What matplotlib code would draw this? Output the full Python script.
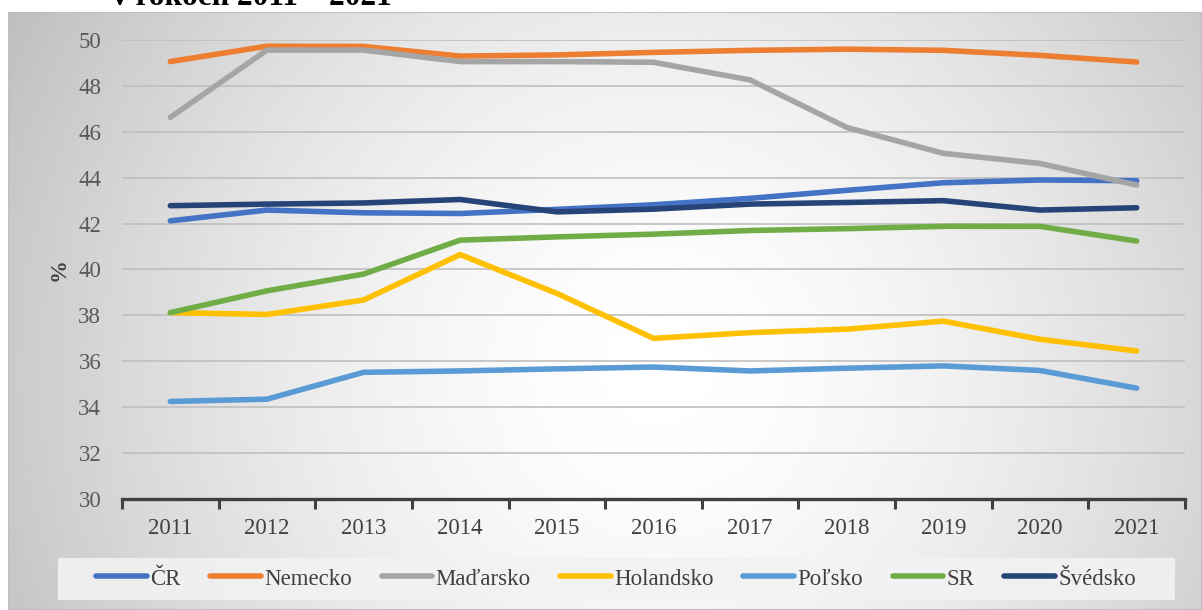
import numpy as np
import matplotlib
matplotlib.use("Agg")
import matplotlib.pyplot as plt

plt.rcParams['font.family'] = ['Liberation Serif', 'DejaVu Serif']

# roky a hodnoty (%)
roky = ['2011', '2012', '2013', '2014', '2015', '2016', '2017', '2018', '2019', '2020', '2021']
cr = [42.12, 42.59, 42.47, 42.44, 42.62, 42.82, 43.10, 43.45, 43.78, 43.90, 43.87]
nemecko = [49.06, 49.73, 49.72, 49.30, 49.35, 49.46, 49.55, 49.60, 49.55, 49.33, 49.04]
madarsko = [46.63, 49.56, 49.56, 49.06, 49.06, 49.03, 48.26, 46.19, 45.06, 44.62, 43.68]
holandsko = [38.12, 38.04, 38.67, 40.65, 38.96, 37.00, 37.25, 37.40, 37.75, 36.96, 36.45]
polsko = [34.25, 34.35, 35.52, 35.58, 35.67, 35.75, 35.58, 35.70, 35.80, 35.60, 34.83]
sr = [38.12, 39.07, 39.80, 41.28, 41.42, 41.54, 41.70, 41.78, 41.88, 41.88, 41.24]
svedsko = [42.78, 42.85, 42.90, 43.05, 42.51, 42.63, 42.85, 42.92, 43.00, 42.59, 42.69]
ytick_hodnoty = [30, 32, 34, 36, 38, 40, 42, 44, 46, 48, 50]

nazvy = ['ČR', 'Nemecko', 'Maďarsko', 'Holandsko', 'Poľsko', 'SR', 'Švédsko']
farby = ['#4472C4', '#ED7D31', '#A5A5A5', '#FFC000', '#5B9BD5', '#70AD47', '#264478']
serie = [cr, nemecko, madarsko, holandsko, polsko, sr, svedsko]

fig = plt.figure(figsize=(12.02, 6.10), dpi=100)
fig.patch.set_facecolor('white')

# pozadie grafu - radialny prechod
bg = fig.add_axes([8 / 1202, 0, 1 - 8 / 1202, 1 - 12 / 610])
gx, gy = np.meshgrid(np.linspace(0, 1194, 400), np.linspace(0, 598, 200))
d = np.sqrt(((gx - 650) / 640) ** 2 + ((gy - 360) / 640) ** 2)
shade = 1 - 0.2 * np.clip(d, 0, 1.2) ** 1.6
bg.imshow(shade, cmap='gray', vmin=0, vmax=1, aspect='auto', extent=[0, 1, 0, 1])
bg.set_axis_off()
bg.add_patch(plt.Rectangle((0, 0), 1, 1, transform=bg.transAxes, fill=False,
                           edgecolor='#bfbfbf', lw=1.5))

ax = fig.add_axes([122 / 1202, 1 - 499 / 610, (1185 - 122) / 1202, (499 - 40) / 610])
ax.set_facecolor('none')
x = np.arange(len(roky))
for s, n, c in zip(serie, nazvy, farby):
    ax.plot(x, s, color=c, lw=4.0, label=n, solid_capstyle='round', solid_joinstyle='round')

ax.set_xlim(-0.5, len(roky) - 0.5)
ax.set_ylim(30, 50)
ax.set_yticks(ytick_hodnoty)
ax.set_yticklabels([str(v) for v in ytick_hodnoty])
ax.set_xticks(x)
ax.set_xticklabels(roky)
ax.set_xticks(np.arange(-0.5, len(roky), 1), minor=True)
ax.tick_params(axis='x', which='major', length=0, pad=14, labelsize=16.5, labelcolor='#404040')
ax.tick_params(axis='x', which='minor', length=7, width=2.2, color='#404040', direction='out')
ax.tick_params(axis='y', length=0, pad=15, labelsize=16.5, labelcolor='#595959')
ax.grid(axis='y', color='#bfbfbf', lw=1.2)
ax.set_axisbelow(True)
for sp in ['top', 'right', 'left']:
    ax.spines[sp].set_visible(False)
ax.spines['bottom'].set_color('#404040')
ax.spines['bottom'].set_linewidth(2.4)
ax.set_ylabel('%', fontsize=16.5, fontweight='bold', color='#404040', labelpad=6)

fig.text(112 / 1202, 1 - 5 / 610, 'v rokoch 2011 – 2021', fontsize=22.5, fontweight='bold',
         ha='left', va='baseline')

# ram legendy
fig.patches.append(plt.Rectangle((58 / 1202, 1 - 600 / 610), (1175 - 58) / 1202, 42 / 610,
                                 transform=fig.transFigure, facecolor='#f2f2f2',
                                 edgecolor='none', alpha=0.9, zorder=0))
leg = fig.legend(loc='center', bbox_to_anchor=(616 / 1202, 1 - 579 / 610), ncol=7,
                 fontsize=16.5, frameon=False, handlelength=2.2,
                 handletextpad=0.15, columnspacing=1.3)
for t in leg.get_texts():
    t.set_color('#404040')

fig.savefig('out.png', dpi=100)
